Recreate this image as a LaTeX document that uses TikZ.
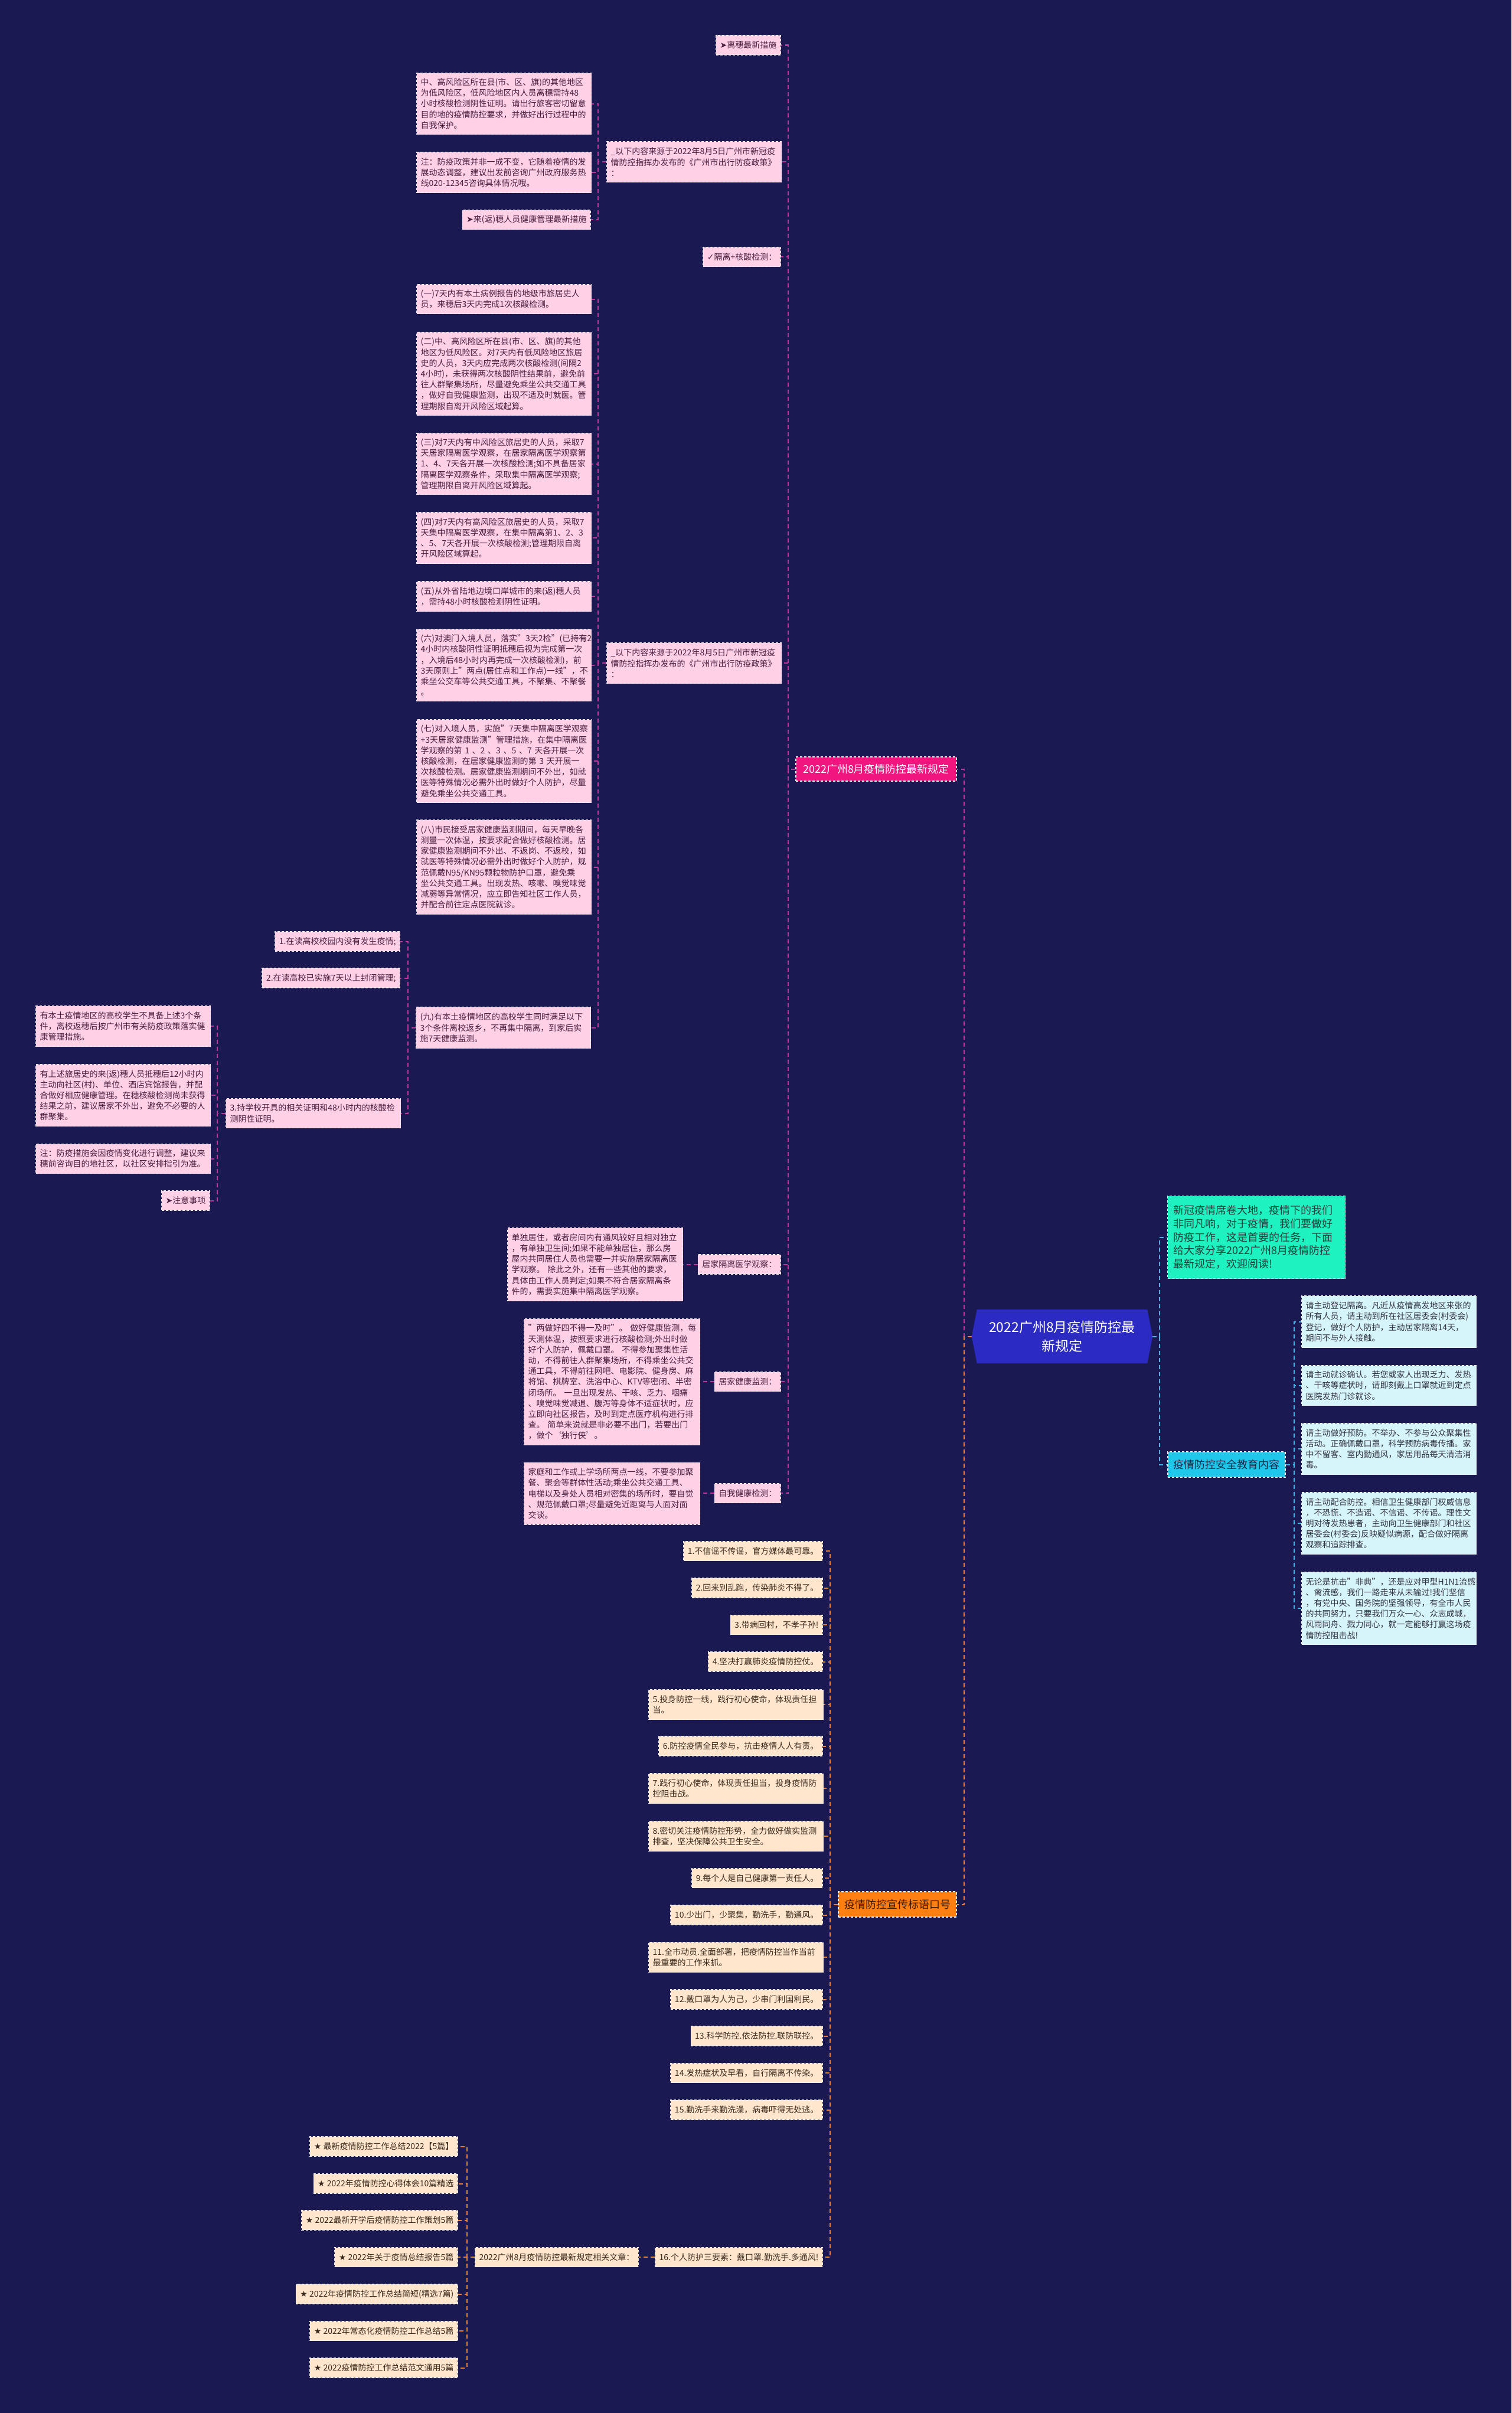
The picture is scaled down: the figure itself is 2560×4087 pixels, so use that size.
\documentclass[tikz,border=0pt]{standalone}
\usepackage{fontspec}
\setmainfont{Noto Sans CJK SC}
\newfontfamily\symf{DejaVu Sans}
\usetikzlibrary{backgrounds}
\definecolor{bgc}{HTML}{1B1951}
\definecolor{pinkfill}{HTML}{FFD0E6}
\definecolor{pinktext}{HTML}{4A2040}
\definecolor{cyanfill}{HTML}{D5F5FA}
\definecolor{cyantext}{HTML}{333340}
\definecolor{beigefill}{HTML}{FFE6CC}
\definecolor{beigetext}{HTML}{3A2A1E}
\definecolor{greenfill}{HTML}{1DF2C0}
\definecolor{greentext}{HTML}{24403A}
\definecolor{cyannode}{HTML}{1FC8EA}
\definecolor{cyannodetext}{HTML}{1A2A4A}
\definecolor{rednode}{HTML}{F0157F}
\definecolor{orangenode}{HTML}{FF7F10}
\definecolor{orangetext}{HTML}{3A1A00}
\definecolor{rootfill}{HTML}{2B2BC4}
\definecolor{boxline}{HTML}{F2EEF2}
\definecolor{magline}{HTML}{C0349E}
\definecolor{orline}{HTML}{E8823A}
\definecolor{blline}{HTML}{3FB6E8}
\newcommand\fsa{\fontsize{14pt}{18.2pt}\selectfont}
\newcommand\fsb{\fontsize{18pt}{22.7pt}\selectfont}
\newcommand\fsc{\fontsize{23pt}{32pt}\selectfont}
\tikzset{
 box/.style={draw=boxline, dash pattern=on 4pt off 3pt, line width=1.2pt, inner xsep=7pt, inner ysep=0pt, minimum height=33pt, align=left, font=\fsa},
 pinkbox/.style={box, fill=pinkfill, text=pinktext},
 cyanbox/.style={box, fill=cyanfill, text=cyantext},
 beigebox/.style={box, fill=beigefill, text=beigetext},
 mlbox/.style={anchor=north west},
 bigbox/.style={draw=boxline, dash pattern=on 4pt off 3pt, line width=1.2pt, font=\fsb, align=center, inner sep=0pt},
 connM/.style={draw=magline, line width=2pt, dash pattern=on 7pt off 5pt},
 connO/.style={draw=orline, line width=2pt, dash pattern=on 7pt off 5pt},
 connB/.style={draw=blline, line width=2pt, dash pattern=on 7pt off 5pt},
}
\begin{document}
\begin{tikzpicture}[x=1pt,y=-1pt]
\begin{pgfonlayer}{background}
\fill[bgc] (0,0) rectangle (2560,4087);
\end{pgfonlayer}
\useasboundingbox (0,0) rectangle (2560,4087);

% root
\node[font=\fsc, text=white, align=center, minimum width=306pt, minimum height=91pt, inner sep=0pt] (root) at (1799,2263.5) {2022广州8月疫情防控最\\新规定};
\begin{pgfonlayer}{background}
\fill[rootfill] ([xshift=9pt]root.north west) -- ([xshift=-9pt]root.north east) -- (root.east) -- ([xshift=-9pt]root.south east) -- ([xshift=9pt]root.south west) -- (root.west) -- cycle;
\end{pgfonlayer}

% main branches
\node[bigbox, fill=rednode, text=white, minimum width=272pt, minimum height=41pt] (red) at (1484,1302.5) {2022广州8月疫情防控最新规定};
\node[bigbox, fill=orangenode, text=orangetext, minimum width=200pt, minimum height=43pt] (orange) at (1520,3225.5) {疫情防控宣传标语口号};
\node[bigbox, fill=cyannode, text=cyannodetext, minimum width=199pt, minimum height=43pt] (cyan) at (2077.5,2480.5) {疫情防控安全教育内容};
\node[draw=boxline, dash pattern=on 4pt off 3pt, line width=1.2pt, fill=greenfill, text=greentext, font=\fsb, align=left, anchor=north west, text width=281pt, inner xsep=10pt, inner ysep=0pt, minimum height=140pt] (green) at (1977,2025) {新冠疫情席卷大地，疫情下的我们\\非同凡响，对于疫情，我们要做好\\防疫工作，这是首要的任务，下面\\给大家分享2022广州8月疫情防控\\最新规定，欢迎阅读!};

% red branch children
\node[pinkbox, anchor=east] (n1) at (1323,76.5) {{\symf ➤}离穗最新措施};
\node[pinkbox, mlbox, text width=282pt, minimum height=69pt] (n2) at (1027,239) {\_以下内容来源于2022年8月5日广州市新冠疫\\情防控指挥办发布的《广州市出行防疫政策》\\：};
\node[pinkbox, mlbox, text width=282pt, minimum height=104pt] (n2a) at (705,123) {中、高风险区所在县(市、区、旗)的其他地区\\为低风险区，低风险地区内人员离穗需持48\\小时核酸检测阴性证明。请出行旅客密切留意\\目的地的疫情防控要求，并做好出行过程中的\\自我保护。};
\node[pinkbox, mlbox, text width=282pt, minimum height=69pt] (n2b) at (705,257) {注：防疫政策并非一成不变，它随着疫情的发\\展动态调整，建议出发前咨询广州政府服务热\\线020-12345咨询具体情况哦。};
\node[pinkbox, anchor=east] (n2c) at (1001,372) {{\symf ➤}来(返)穗人员健康管理最新措施};
\node[pinkbox, anchor=east] (n3) at (1323,435) {{\symf ✓}隔离+核酸检测：};
\node[pinkbox, mlbox, text width=282pt, minimum height=69pt] (n4) at (1027,1088) {\_以下内容来源于2022年8月5日广州市新冠疫\\情防控指挥办发布的《广州市出行防疫政策》\\：};
\node[pinkbox, mlbox, text width=282pt, minimum height=50pt] (q1) at (705,481) {(一)7天内有本土病例报告的地级市旅居史人\\员，来穗后3天内完成1次核酸检测。};
\node[pinkbox, mlbox, text width=282pt, minimum height=141pt] (q2) at (705,562) {(二)中、高风险区所在县(市、区、旗)的其他\\地区为低风险区。对7天内有低风险地区旅居\\史的人员，3天内应完成两次核酸检测(间隔2\\4小时)，未获得两次核酸阴性结果前，避免前\\往人群聚集场所，尽量避免乘坐公共交通工具\\，做好自我健康监测，出现不适及时就医。管\\理期限自离开风险区域起算。};
\node[pinkbox, mlbox, text width=282pt, minimum height=104pt] (q3) at (705,733) {(三)对7天内有中风险区旅居史的人员，采取7\\天居家隔离医学观察，在居家隔离医学观察第\\1、4、7天各开展一次核酸检测;如不具备居家\\隔离医学观察条件，采取集中隔离医学观察;\\管理期限自离开风险区域算起。};
\node[pinkbox, mlbox, text width=282pt, minimum height=87pt] (q4) at (705,867) {(四)对7天内有高风险区旅居史的人员，采取7\\天集中隔离医学观察，在集中隔离第1、2、3\\、5、7天各开展一次核酸检测;管理期限自离\\开风险区域算起。};
\node[pinkbox, mlbox, text width=282pt, minimum height=51pt] (q5) at (705,984) {(五)从外省陆地边境口岸城市的来(返)穗人员\\，需持48小时核酸检测阴性证明。};
\node[pinkbox, mlbox, text width=282pt, minimum height=122pt] (q6) at (705,1065) {(六)对澳门入境人员，落实"3天2检"(已持有2\\4小时内核酸阴性证明抵穗后视为完成第一次\\，入境后48小时内再完成一次核酸检测)，前\\3天原则上"两点(居住点和工作点)一线"，不\\乘坐公交车等公共交通工具，不聚集、不聚餐\\。};
\node[pinkbox, mlbox, text width=282pt, minimum height=141pt] (q7) at (705,1218) {(七)对入境人员，实施"7天集中隔离医学观察\\+3天居家健康监测"管理措施，在集中隔离医\\学观察的第~1~、2~、3~、5~、7~天各开展一次\\核酸检测，在居家健康监测的第~3~天开展一\\次核酸检测。居家健康监测期间不外出，如就\\医等特殊情况必需外出时做好个人防护，尽量\\避免乘坐公共交通工具。};
\node[pinkbox, mlbox, text width=282pt, minimum height=160pt] (q8) at (705,1388) {(八)市民接受居家健康监测期间，每天早晚各\\测量一次体温，按要求配合做好核酸检测。居\\家健康监测期间不外出、不返岗、不返校，如\\就医等特殊情况必需外出时做好个人防护，规\\范佩戴N95/KN95颗粒物防护口罩，避免乘\\坐公共交通工具。出现发热、咳嗽、嗅觉味觉\\减弱等异常情况，应立即告知社区工作人员，\\并配合前往定点医院就诊。};
\node[pinkbox, mlbox, text width=282pt, minimum height=70pt] (q9) at (704,1705) {(九)有本土疫情地区的高校学生同时满足以下\\3个条件离校返乡，不再集中隔离，到家后实\\施7天健康监测。};
\node[pinkbox, anchor=east] (k1) at (678,1594.5) {1.在读高校校园内没有发生疫情;};
\node[pinkbox, anchor=east] (k2) at (678,1656.5) {2.在读高校已实施7天以上封闭管理;};
\node[pinkbox, mlbox, text width=282pt, minimum height=50pt] (k3) at (382,1860) {3.持学校开具的相关证明和48小时内的核酸检\\测阴性证明。};
\node[pinkbox, mlbox, text width=282pt, minimum height=69pt] (m1) at (60,1703) {有本土疫情地区的高校学生不具备上述3个条\\件，离校返穗后按广州市有关防疫政策落实健\\康管理措施。};
\node[pinkbox, mlbox, text width=282pt, minimum height=105pt] (m2) at (60,1802) {有上述旅居史的来(返)穗人员抵穗后12小时内\\主动向社区(村)、单位、酒店宾馆报告，并配\\合做好相应健康管理。在穗核酸检测尚未获得\\结果之前，建议居家不外出，避免不必要的人\\群聚集。};
\node[pinkbox, mlbox, text width=282pt, minimum height=50pt] (m3) at (60,1937) {注：防疫措施会因疫情变化进行调整，建议来\\穗前咨询目的地社区，以社区安排指引为准。};
\node[pinkbox, anchor=east] (m4) at (356,2033.5) {{\symf ➤}注意事项};
\node[pinkbox, anchor=east] (n5) at (1323,2141.5) {居家隔离医学观察：};
\node[pinkbox, mlbox, text width=283pt, minimum height=124pt] (n5c) at (859,2079) {单独居住，或者房间内有通风较好且相对独立\\，有单独卫生间;如果不能单独居住，那么房\\屋内共同居住人员也需要一并实施居家隔离医\\学观察。~除此之外，还有一些其他的要求，\\具体由工作人员判定;如果不符合居家隔离条\\件的，需要实施集中隔离医学观察。};
\node[pinkbox, anchor=east] (n6) at (1323,2340) {居家健康监测：};
\node[pinkbox, mlbox, text width=284pt, minimum height=214pt] (n6c) at (887,2233) {"两做好四不得一及时"。~做好健康监测，每\\天测体温，按照要求进行核酸检测;外出时做\\好个人防护，佩戴口罩。~不得参加聚集性活\\动，不得前往人群聚集场所，不得乘坐公共交\\通工具，不得前往网吧、电影院、健身房、麻\\将馆、棋牌室、洗浴中心、KTV等密闭、半密\\闭场所。~一旦出现发热、干咳、乏力、咽痛\\、嗅觉味觉减退、腹泻等身体不适症状时，应\\立即向社区报告，及时到定点医疗机构进行排\\查。~简单来说就是非必要不出门，若要出门\\，做个‘独行侠’。};
\node[pinkbox, anchor=east] (n7) at (1323,2529) {自我健康检测：};
\node[pinkbox, mlbox, text width=284pt, minimum height=105pt] (n7c) at (887,2476.5) {家庭和工作或上学场所两点一线，不要参加聚\\餐、聚会等群体性活动;乘坐公共交通工具、\\电梯以及身处人员相对密集的场所时，要自觉\\、规范佩戴口罩;尽量避免近距离与人面对面\\交谈。};

% cyan branch children
\node[cyanbox, mlbox, text width=282pt, minimum height=88pt] (c1) at (2204,2194) {请主动登记隔离。凡近从疫情高发地区来张的\\所有人员，请主动到所在社区居委会(村委会)\\登记，做好个人防护，主动居家隔离14天，\\期间不与外人接触。};
\node[cyanbox, mlbox, text width=282pt, minimum height=68pt] (c2) at (2204,2312) {请主动就诊确认。若您或家人出现乏力、发热\\、干咳等症状时，请即刻戴上口罩就近到定点\\医院发热门诊就诊。};
\node[cyanbox, mlbox, text width=282pt, minimum height=87pt] (c3) at (2204,2410) {请主动做好预防。不举办、不参与公众聚集性\\活动。正确佩戴口罩，科学预防病毒传播。家\\中不留客、室内勤通风，家居用品每天清洁消\\毒。};
\node[cyanbox, mlbox, text width=282pt, minimum height=105pt] (c4) at (2204,2527) {请主动配合防控。相信卫生健康部门权威信息\\，不恐慌、不造谣、不信谣、不传谣。理性文\\明对待发热患者，主动向卫生健康部门和社区\\居委会(村委会)反映疑似病源，配合做好隔离\\观察和追踪排查。};
\node[cyanbox, mlbox, text width=282pt, minimum height=123pt] (c5) at (2204,2662) {无论是抗击"非典"，还是应对甲型H1N1流感\\、禽流感，我们一路走来从未输过!我们坚信\\，有党中央、国务院的坚强领导，有全市人民\\的共同努力，只要我们万众一心、众志成城，\\风雨同舟、戮力同心，就一定能够打赢这场疫\\情防控阻击战!};

% orange branch children
\node[beigebox, anchor=east] (s1) at (1394,2627) {1.不信谣不传谣，官方媒体最可靠。};
\node[beigebox, anchor=east] (s2) at (1394,2689.5) {2.回来别乱跑，传染肺炎不得了。};
\node[beigebox, anchor=east] (s3) at (1394,2752) {3.带病回村，不孝子孙!};
\node[beigebox, anchor=east] (s4) at (1394,2814.5) {4.坚决打赢肺炎疫情防控仗。};
\node[beigebox, mlbox, text width=282pt, minimum height=51pt] (s5) at (1098,2861) {5.投身防控一线，践行初心使命，体现责任担\\当。};
\node[beigebox, anchor=east] (s6) at (1394,2957.5) {6.防控疫情全民参与，抗击疫情人人有责。};
\node[beigebox, mlbox, text width=282pt, minimum height=51pt] (s7) at (1098,3003) {7.践行初心使命，体现责任担当，投身疫情防\\控阻击战。};
\node[beigebox, mlbox, text width=282pt, minimum height=51pt] (s8) at (1098,3084) {8.密切关注疫情防控形势，全力做好做实监测\\排查，坚决保障公共卫生安全。};
\node[beigebox, anchor=east] (s9) at (1394,3181) {9.每个人是自己健康第一责任人。};
\node[beigebox, anchor=east] (s10) at (1394,3243.5) {10.少出门，少聚集，勤洗手，勤通风。};
\node[beigebox, mlbox, text width=282pt, minimum height=51pt] (s11) at (1098,3289) {11.全市动员.全面部署，把疫情防控当作当前\\最重要的工作来抓。};
\node[beigebox, anchor=east] (s12) at (1394,3386.5) {12.戴口罩为人为己，少串门利国利民。};
\node[beigebox, anchor=east] (s13) at (1394,3448.5) {13.科学防控.依法防控.联防联控。};
\node[beigebox, anchor=east] (s14) at (1394,3511) {14.发热症状及早看，自行隔离不传染。};
\node[beigebox, anchor=east] (s15) at (1394,3573.5) {15.勤洗手来勤洗澡，病毒吓得无处逃。};
\node[beigebox, anchor=east] (s16) at (1394,3823) {16.个人防护三要素：戴口罩.勤洗手.多通风!};
\node[beigebox, anchor=east] (rel) at (1082,3823) {2022广州8月疫情防控最新规定相关文章：};
\node[beigebox, anchor=east] (t1) at (776,3635.5) {{\symf ★} 最新疫情防控工作总结2022【5篇】};
\node[beigebox, anchor=east] (t2) at (776,3698.5) {{\symf ★} 2022年疫情防控心得体会10篇精选};
\node[beigebox, anchor=east] (t3) at (776,3760.5) {{\symf ★} 2022最新开学后疫情防控工作策划5篇};
\node[beigebox, anchor=east] (t4) at (776,3823) {{\symf ★} 2022年关于疫情总结报告5篇};
\node[beigebox, anchor=east] (t5) at (776,3885.5) {{\symf ★} 2022年疫情防控工作总结简短(精选7篇)};
\node[beigebox, anchor=east] (t6) at (776,3948) {{\symf ★} 2022年常态化疫情防控工作总结5篇};
\node[beigebox, anchor=east] (t7) at (776,4010.5) {{\symf ★} 2022疫情防控工作总结范文通用5篇};

% connectors: root
\draw[connM] (root.west) -- ++(-13,0) |- (red.east);
\draw[connO] (root.west) -- ++(-13,0) |- (orange.east);
\draw[connB] (root.east) -- ++(12,0) |- (green.west);
\draw[connB] (root.east) -- ++(12,0) |- (cyan.west);
% red trunk
\foreach \c in {n1,n2,n3,n4,n5,n6,n7}
  \draw[connM] (red.west) -- ++(-12,0) |- (\c.east);
\foreach \c in {n2a,n2b,n2c}
  \draw[connM] (n2.west) -- ++(-14,0) |- (\c.east);
\foreach \c in {q1,q2,q3,q4,q5,q6,q7,q8,q9}
  \draw[connM] (n4.west) -- ++(-14,0) |- (\c.east);
\foreach \c in {k1,k2,k3}
  \draw[connM] (q9.west) -- ++(-13,0) |- (\c.east);
\foreach \c in {m1,m2,m3,m4}
  \draw[connM] (k3.west) -- ++(-14,0) |- (\c.east);
\draw[connM] (n5.west) -- (n5.west -| n5c.east);
\draw[connM] (n6.west) -- (n6.west -| n6c.east);
\draw[connM] (n7.west) -- (n7.west -| n7c.east);
% cyan
\foreach \c in {c1,c2,c3,c4,c5}
  \draw[connB] (cyan.east) -- ++(14,0) |- (\c.west);
% orange
\foreach \c in {s1,s2,s3,s4,s5,s6,s7,s8,s9,s10,s11,s12,s13,s14,s15,s16}
  \draw[connO] (orange.west) -- ++(-13,0) |- (\c.east);
\draw[connO] (s16.west) -- (rel.east);
\foreach \c in {t1,t2,t3,t4,t5,t6,t7}
  \draw[connO] (rel.west) -- ++(-13,0) |- (\c.east);
\end{tikzpicture}
\end{document}
